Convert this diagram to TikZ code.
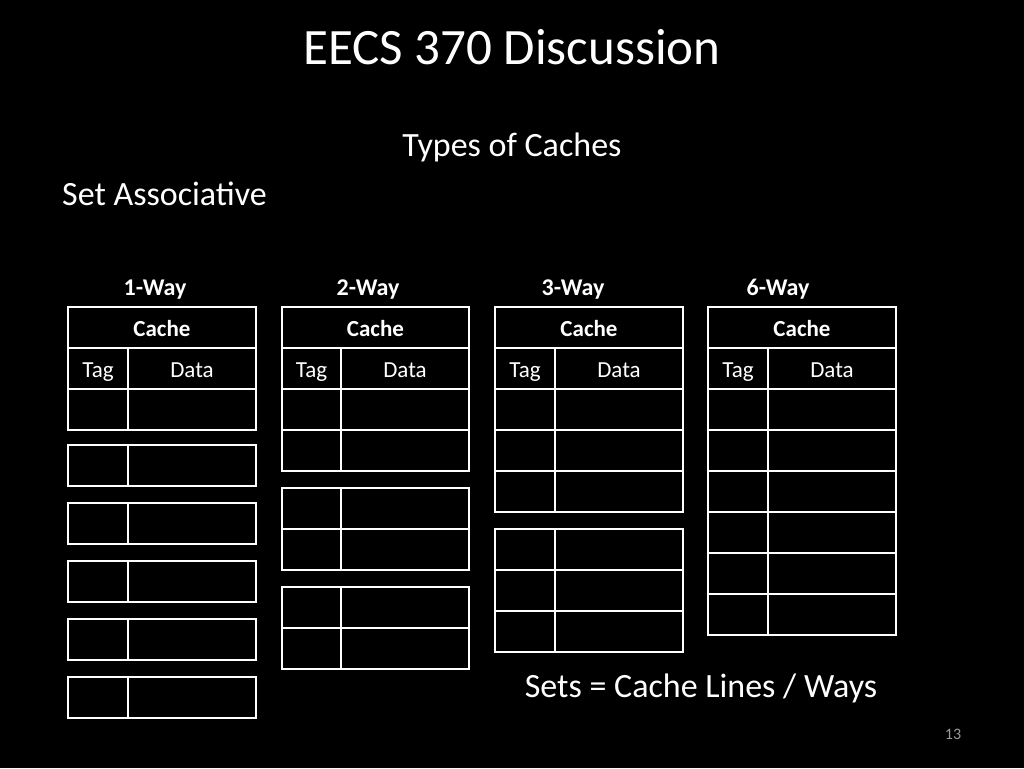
\documentclass[tikz,border=0pt]{standalone}
\usepackage{fontspec}
\setmainfont{Carlito}
\begin{document}
\begin{tikzpicture}[x=1pt,y=-1pt,
  ln/.style={draw=white,line width=1.6pt},
  txt/.style={text=white,inner sep=0pt,anchor=base},
  cell/.style={txt,font=\fontsize{23}{27}\selectfont},
  way/.style={txt,font=\bfseries\fontsize{24}{28}\selectfont}]
\fill[black] (0,0) rectangle (1024,768);
\useasboundingbox (0,0) rectangle (1024,768);
\node[txt,font=\fontsize{51}{58}\selectfont] (title) at (512,64) {EECS 370 Discussion};
\node[txt,font=\fontsize{34}{40}\selectfont] (sub) at (512,156) {Types of Caches};
\node[txt,font=\fontsize{34}{40}\selectfont,anchor=base west] (sa) at (62,205) {Set Associative};
\node[txt,font=\fontsize{34}{40}\selectfont] (eq) at (701,697) {Sets = Cache Lines / Ways};
\node[txt,font=\fontsize{16}{18}\selectfont,text=gray!80] (pg) at (953,739) {13};
\newcommand{\hdr}[5]{% x0, xs, x1, label, labelx
  \draw[ln] (#1,307) rectangle (#3,389);
  \draw[ln] (#1,348) -- (#3,348);
  \draw[ln] (#2,348) -- (#2,389);
  \node[cell,font=\bfseries\fontsize{23}{27}\selectfont] at ({(#1+#3)/2},336) {Cache};
  \node[cell] at ({(#1+#2)/2},377) {Tag};
  \node[cell] at ({(#2+#3)/2},377) {Data};
  \node[way] at (#5,295) {#4};}
\newcommand{\blk}[5]{% x0 xs x1 ytop nrows
  \pgfmathsetmacro{\yb}{#4+41*#5}
  \draw[ln] (#1,#4) rectangle (#3,\yb);
  \draw[ln] (#2,#4) -- (#2,\yb);
  \ifnum#5>1 \foreach \i in {2,...,#5}{\draw[ln] (#1,{#4+41*(\i-1)}) -- (#3,{#4+41*(\i-1)});}\fi}
\hdr{68}{128}{256}{1-Way}{155}
\blk{68}{128}{256}{389}{1}
\foreach \y in {445,503,561,619,677} {\blk{68}{128}{256}{\y}{1}}
\hdr{282}{341}{469}{2-Way}{368}
\blk{282}{341}{469}{389}{2}
\blk{282}{341}{469}{488}{2}
\blk{282}{341}{469}{587}{2}
\hdr{495}{555}{683}{3-Way}{573}
\blk{495}{555}{683}{389}{3}
\blk{495}{555}{683}{529}{3}
\hdr{708}{768}{896}{6-Way}{778}
\blk{708}{768}{896}{389}{6}
\end{tikzpicture}
\end{document}
